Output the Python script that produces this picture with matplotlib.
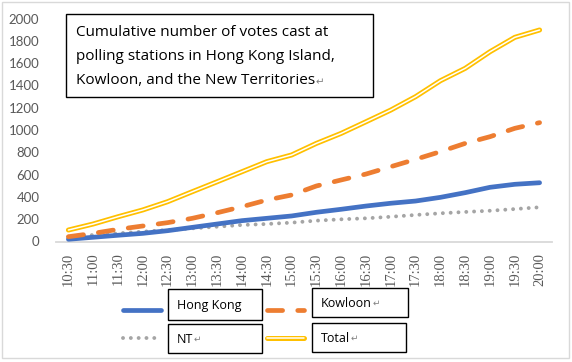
import matplotlib
matplotlib.use("Agg")
import matplotlib.pyplot as plt
from matplotlib.lines import Line2D
from matplotlib.patches import Rectangle

times = ["10:30", "11:00", "11:30", "12:00", "12:30", "13:00", "13:30", "14:00", "14:30", "15:00",
         "15:30", "16:00", "16:30", "17:00", "17:30", "18:00", "18:30", "19:00", "19:30", "20:00"]
hong_kong = [20, 38, 56, 73, 97, 127, 157, 187, 208, 229, 262, 289, 318, 343, 363, 396, 438, 486, 513, 527]
kowloon = [43, 73, 109, 139, 169, 208, 258, 312, 372, 417, 498, 552, 605, 671, 737, 806, 880, 940, 1015, 1066]
nt = [43, 58, 73, 88, 103, 118, 133, 148, 157, 169, 187, 199, 208, 222, 238, 253, 265, 276, 291, 307]
total = [103, 157, 222, 283, 357, 447, 536, 626, 716, 776, 880, 970, 1074, 1179, 1299, 1442, 1553, 1702, 1831, 1897]
yticks = [0, 200, 400, 600, 800, 1000, 1200, 1400, 1600, 1800, 2000]
title_lines = ["Cumulative number of votes cast at",
               "polling stations in Hong Kong Island,",
               "Kowloon, and the New Territories"]
legend_labels = ["Hong Kong", "Kowloon", "NT", "Total"]

W, H = 572, 362
fig = plt.figure(figsize=(W / 100, H / 100), dpi=100)

def fx(px):
    return px / W

def fy(py):
    return 1 - py / H

ax = fig.add_axes([fx(56), fy(241.5), fx(552) - fx(56), fy(18.5) - fy(241.5)])
x = list(range(len(times)))

BLUE = "#4472C4"
ORANGE = "#ED7D31"
GRAY = "#A5A5A5"
YELLOW = "#FFC000"

ax.plot(x, nt, color=GRAY, lw=2.8, linestyle=(0, (0.01, 2.0)), dash_capstyle="round", zorder=2)
ax.plot(x, hong_kong, color=BLUE, lw=3.4, solid_capstyle="round", zorder=3)
ax.plot(x, kowloon, color=ORANGE, lw=3.4, linestyle=(0, (3.2, 3.2)), dash_capstyle="round", zorder=3)
ax.plot(x, total, color=YELLOW, lw=3.6, solid_capstyle="round", zorder=4)
ax.plot(x, total, color="white", lw=1.1, solid_capstyle="round", zorder=5)

ax.set_xlim(-0.5, len(times) - 0.5)
ax.set_ylim(0, 2000)
ax.set_yticks(yticks)
ax.set_yticklabels([str(v) for v in yticks], fontsize=9.5, color="#595959", family="Lato")
ax.set_xticks(x)
ax.set_xticklabels(times, rotation=90, fontsize=10.5, color="#595959", family="Liberation Serif")
ax.tick_params(axis="both", length=0)
ax.tick_params(axis="y", pad=12)
ax.tick_params(axis="x", pad=8)
for s in ["top", "right", "left"]:
    ax.spines[s].set_visible(False)
ax.spines["bottom"].set_color("#D9D9D9")
ax.spines["bottom"].set_linewidth(1.3)
ax.set_facecolor("none")

# Title box
fig.patches.append(Rectangle((fx(66), fy(97)), fx(373) - fx(66), fy(14) - fy(97),
                             transform=fig.transFigure, facecolor="white", edgecolor="black",
                             lw=1.0, zorder=10))
last = None
for i, line in enumerate(title_lines):
    last = fig.text(fx(76), fy(33 + 24 * i), line, fontsize=11.0, family=["Open Sans", "DejaVu Sans"],
                    color="black", va="center", ha="left", zorder=11)
fig.canvas.draw()
bb = last.get_window_extent()
fig.text(bb.x1 / W + 0.001, fy(33 + 24 * 2 + 1), "\u21b5", fontsize=7.5, family="DejaVu Sans",
         color="#808080", va="center", ha="left", zorder=11)

# Legend (drawn manually)
def legend_line(x0, x1, y, **kw):
    fig.add_artist(Line2D([fx(x0), fx(x1)], [fy(y), fy(y)], transform=fig.transFigure, **kw))

legend_line(123, 161, 310, color=BLUE, lw=3.4, solid_capstyle="round")
legend_line(267, 304, 310, color=ORANGE, lw=3.4, linestyle=(0, (3.2, 3.2)), dash_capstyle="round")
legend_line(123, 161, 338, color=GRAY, lw=2.8, linestyle=(0, (0.01, 2.0)), dash_capstyle="round")
legend_line(267, 304, 338, color=YELLOW, lw=3.6, solid_capstyle="round")
legend_line(267, 304, 338, color="white", lw=1.1, solid_capstyle="round")

boxes = [(168, 289, 262, 320), (312, 288, 408, 317), (168, 324, 262, 353), (312, 323, 406, 352)]
marks = [False, True, True, True]
for (x0, y0, x1, y1), lab, mk in zip(boxes, legend_labels, marks):
    fig.patches.append(Rectangle((fx(x0), fy(y1)), fx(x1) - fx(x0), fy(y0) - fy(y1),
                                 transform=fig.transFigure, facecolor="white", edgecolor="black",
                                 lw=1.0, zorder=10))
    t = fig.text(fx(x0 + 9), fy((y0 + y1) / 2 + 1), lab, fontsize=9.0,
                 family=["Open Sans", "DejaVu Sans"], color="black", va="center", ha="left", zorder=11)
    if mk:
        fig.canvas.draw()
        bb = t.get_window_extent()
        fig.text(bb.x1 / W + 0.0005, fy((y0 + y1) / 2 + 1), "\u21b5", fontsize=6.5, family="DejaVu Sans",
                 color="#808080", va="center", ha="left", zorder=11)

# Outer chart frame
fig.patches.append(Rectangle((fx(1.5), fy(358)), fx(569) - fx(1.5), fy(1.5) - fy(358),
                             transform=fig.transFigure, facecolor="none", edgecolor="#D9D9D9",
                             lw=1.0, zorder=1))

fig.savefig("out.png", dpi=100, facecolor="white")
